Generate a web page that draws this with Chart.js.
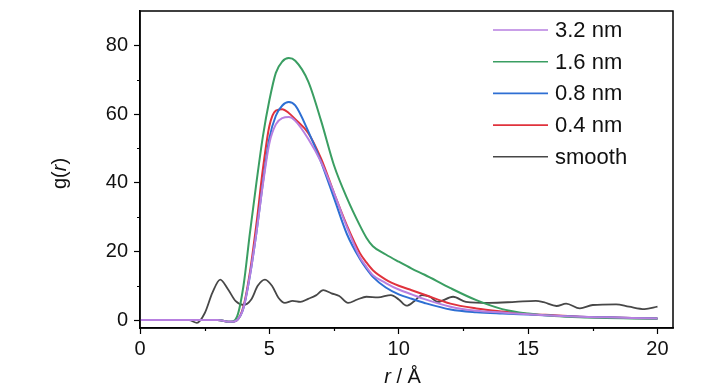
<!DOCTYPE html>
<html>
<head>
<meta charset="utf-8">
<script src="https://cdn.jsdelivr.net/npm/chart.js@4.4.1/dist/chart.umd.min.js"></script>
<style>
  html, body { margin: 0; padding: 0; background: #fff; }
  #wrap { width: 728px; height: 390px; }
</style>
</head>
<body>
<div id="wrap"><canvas id="gr" width="728" height="390"></canvas></div>
<script>
// r grid (Å) shared by the four pore-size curves
const R = [0, 2, 3, 3.5, 3.75, 4, 4.25, 4.5, 4.75, 5, 5.25, 5.5, 5.75, 6, 6.5, 7, 7.5, 8, 8.5, 8.75, 9, 9.5, 10, 10.5, 11, 12, 13, 14, 15, 16, 17, 18, 19, 20];

const G_32 = [0, 0, 0, -0.5, 0, 3.5, 13, 25.5, 39.5, 51.5, 57, 58.8, 59.1, 58, 52.8, 46, 37, 27, 18.3, 15.5, 13.1, 10.8, 8.9, 7.5, 6.1, 3.9, 2.7, 2.2, 1.7, 1.3, 1.0, 0.8, 0.6, 0.5];
const G_16 = [0, 0, 0, -0.5, 1, 10, 25.5, 40, 53.5, 64, 72, 75.3, 76.3, 75.5, 69.5, 58, 45, 35.5, 27.5, 24, 21.5, 19.1, 17, 15, 13.2, 9.3, 5.8, 3.2, 1.9, 1.2, 0.8, 0.6, 0.5, 0.4];
const G_08 = [0, 0, 0, -0.5, 0, 3.5, 13, 25.5, 40, 53, 59.5, 62.5, 63.5, 62.5, 55, 46, 35.5, 25, 17.8, 15, 12.6, 9.5, 7.5, 6.2, 5.0, 3.1, 2.3, 1.9, 1.6, 1.3, 1.0, 0.8, 0.6, 0.5];
const G_04 = [0, 0, 0, -0.5, 0, 4, 14, 28, 44, 56.5, 61, 61.4, 60.3, 58.5, 54.5, 47, 37, 27.5, 19.5, 16.8, 14.5, 11.8, 10, 8.7, 7.4, 4.8, 3.4, 2.5, 1.8, 1.4, 1.0, 0.8, 0.6, 0.5];

// smoothed reference curve has its own grid (more wiggles)
const R_SMOOTH = [0, 1.9, 2.2, 2.5, 2.8, 3.1, 3.4, 3.7, 4.0, 4.3, 4.55, 4.83, 5.1, 5.35, 5.6, 5.9, 6.2, 6.5, 6.8, 7.08, 7.4, 7.7, 8.04, 8.4, 8.75, 9.2, 9.7, 10.0, 10.3, 10.6, 10.9, 11.2, 11.5, 12.1, 12.6, 13.5, 14.5, 15.3, 15.6, 16.1, 16.47, 17.0, 17.5, 18.4, 18.9, 19.5, 20.0];
const G_SMOOTH = [0, 0, -0.8, 2, 8, 11.8, 9, 5.5, 4.4, 6, 10, 11.8, 10, 6.5, 5.0, 5.6, 5.3, 6.2, 7.2, 8.7, 7.8, 7.0, 5.0, 6.0, 6.8, 6.6, 7.3, 6.0, 4.2, 5.5, 7.3, 6.8, 5.3, 6.8, 5.3, 5.0, 5.3, 5.6, 5.2, 4.1, 4.8, 3.4, 4.4, 4.6, 3.9, 3.2, 3.9];

const LABELS = ['3.2 nm', '1.6 nm', '0.8 nm', '0.4 nm', 'smooth'];
const COLORS = ['#b77fe0', '#3a9e62', '#2e6fd3', '#e0323c', '#474747'];

const X_TICKS = [0, 5, 10, 15, 20];
const X_MINOR = [2.5, 7.5, 12.5, 17.5];
const Y_TICKS = [0, 20, 40, 60, 80];
const Y_MINOR = [10, 30, 50, 70];

const FONT = "'Liberation Sans', Arial, sans-serif";

const pts = (xs, ys) => xs.map((x, i) => ({ x, y: ys[i] }));
const series = [pts(R, G_32), pts(R, G_16), pts(R, G_08), pts(R, G_04), pts(R_SMOOTH, G_SMOOTH)];

// frame, minor ticks, axis titles and in-plot legend
const decorations = {
  id: 'decorations',
  afterDraw(chart) {
    const { ctx, chartArea: a, scales } = chart;
    ctx.save();
    ctx.strokeStyle = '#000';
    ctx.lineWidth = 1.5;
    ctx.strokeRect(a.left, a.top, a.right - a.left, a.bottom - a.top);

    ctx.lineWidth = 1.2;
    ctx.beginPath();
    Y_MINOR.forEach(v => {
      const y = Math.round(scales.y.getPixelForValue(v)) + 0.5;
      ctx.moveTo(a.left - 3, y); ctx.lineTo(a.left, y);
    });
    X_MINOR.forEach(v => {
      const x = Math.round(scales.x.getPixelForValue(v)) + 0.5;
      ctx.moveTo(x, a.bottom); ctx.lineTo(x, a.bottom + 3);
    });
    ctx.stroke();

    ctx.fillStyle = '#111';
    ctx.textBaseline = 'middle';
    const it = `italic 20px ${FONT}`, up = `20px ${FONT}`;

    // x title: r / Å
    const parts = [['r', it], [' / Å', up]];
    let w = 0;
    parts.forEach(p => { ctx.font = p[1]; w += ctx.measureText(p[0]).width; });
    let x = (a.left + a.right) / 2 - 4 - w / 2;
    parts.forEach(p => { ctx.font = p[1]; ctx.textAlign = 'left'; ctx.fillText(p[0], x, 377); x += ctx.measureText(p[0]).width; });

    // y title: g(r)
    const yp = [['g(', up], ['r', it], [')', up]];
    w = 0;
    yp.forEach(p => { ctx.font = p[1]; w += ctx.measureText(p[0]).width; });
    ctx.save();
    ctx.translate(a.left - 80, (a.top + a.bottom) / 2 + 4);
    ctx.rotate(-Math.PI / 2);
    x = -w / 2;
    yp.forEach(p => { ctx.font = p[1]; ctx.fillText(p[0], x, 0); x += ctx.measureText(p[0]).width; });
    ctx.restore();

    // legend
    ctx.font = `22px ${FONT}`;
    chart.data.datasets.forEach((ds, i) => {
      const y = a.top + 19 + i * 31.7;
      ctx.strokeStyle = ds.borderColor;
      ctx.lineWidth = 1.6;
      ctx.beginPath();
      ctx.moveTo(a.right - 180, y); ctx.lineTo(a.right - 125, y);
      ctx.stroke();
      ctx.fillText(ds.label, a.right - 118, y + 1);
    });
    ctx.restore();
  }
};

new Chart(document.getElementById('gr'), {
  type: 'line',
  data: {
    datasets: series.map((d, i) => ({
      label: LABELS[i],
      data: d,
      borderColor: COLORS[i],
      backgroundColor: COLORS[i],
      borderWidth: i === 4 ? 1.8 : 2,
      pointRadius: 0,
      cubicInterpolationMode: 'monotone',
      fill: false
    }))
  },
  options: {
    responsive: false,
    animation: false,
    devicePixelRatio: 1,
    layout: { padding: { top: 11, right: 55, left: 0, bottom: 0 } },
    plugins: { legend: { display: false }, tooltip: { enabled: false } },
    scales: {
      x: {
        type: 'linear',
        min: 0,
        max: 20.6,
        afterBuildTicks: s => { s.ticks = X_TICKS.map(v => ({ value: v })); },
        afterFit: s => { s.height = 62; s.paddingLeft = 0; s.paddingRight = 0; },
        grid: { drawOnChartArea: false, drawTicks: true, tickLength: 6, tickColor: '#000', tickWidth: 1.2 },
        border: { color: '#000', width: 1.5 },
        ticks: { font: { family: FONT, size: 20 }, color: '#111', padding: 3, maxRotation: 0 }
      },
      y: {
        type: 'linear',
        min: -2.3,
        max: 90,
        afterBuildTicks: s => { s.ticks = Y_TICKS.map(v => ({ value: v })); },
        afterFit: s => { s.width = 140; s.paddingTop = 0; s.paddingBottom = 0; },
        grid: { drawOnChartArea: false, drawTicks: true, tickLength: 6, tickColor: '#000', tickWidth: 1.2 },
        border: { color: '#000', width: 1.5 },
        ticks: { font: { family: FONT, size: 20 }, color: '#111', padding: 6 }
      }
    }
  },
  plugins: [decorations]
});
</script>
</body>
</html>
